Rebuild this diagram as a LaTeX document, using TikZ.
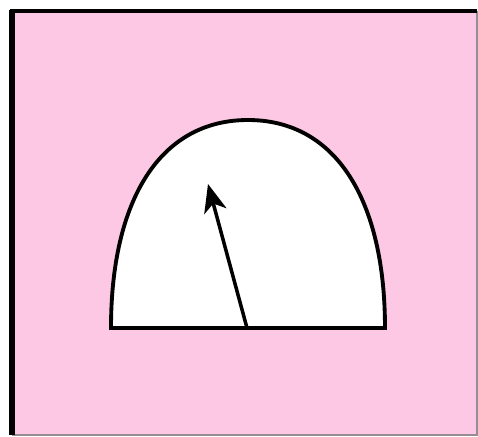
\documentclass[tikz,border=0pt]{standalone}
\usepackage{tikz}
\usetikzlibrary{arrows.meta}

\definecolor{bgpink}{RGB}{253,200,228}
\definecolor{edgegrey}{RGB}{150,140,150}

\begin{document}
\begin{tikzpicture}[x=0.02cm, y=-0.02cm, >={Stealth[length=16pt, width=13pt, inset=4.5pt]}]
    % 画布范围
    \useasboundingbox (0, 0) rectangle (478, 437);
    
    % 粉色背景和边框
    \fill[bgpink] (12, 11) rectangle (477, 435);
    \draw[edgegrey, line width=0.8pt] (477, 11) -- (477, 435) -- (12, 435);
    \draw[line width=3.4pt] (12, 435) -- (12, 9.5);
    \draw[line width=2.4pt] (10.3, 11) -- (477, 11);
    
    % 拱形的关键坐标
    \coordinate (BaseL) at (111, 328);
    \coordinate (BaseR) at (385, 328);
    \coordinate (Top) at (248, 120);
    
    % 绘制拱形
    \draw[fill=white, line width=2.2pt]
        (BaseL) .. controls (111, 200) and (160, 120) .. (Top)
        .. controls (336, 120) and (385, 200) .. (BaseR) -- cycle;
    
    % 指针
    \coordinate (Pivot) at (247, 328);
    \coordinate (Tip) at (208, 184);
    \draw[->, line width=2pt] (Pivot) -- (Tip);
\end{tikzpicture}
\end{document}
